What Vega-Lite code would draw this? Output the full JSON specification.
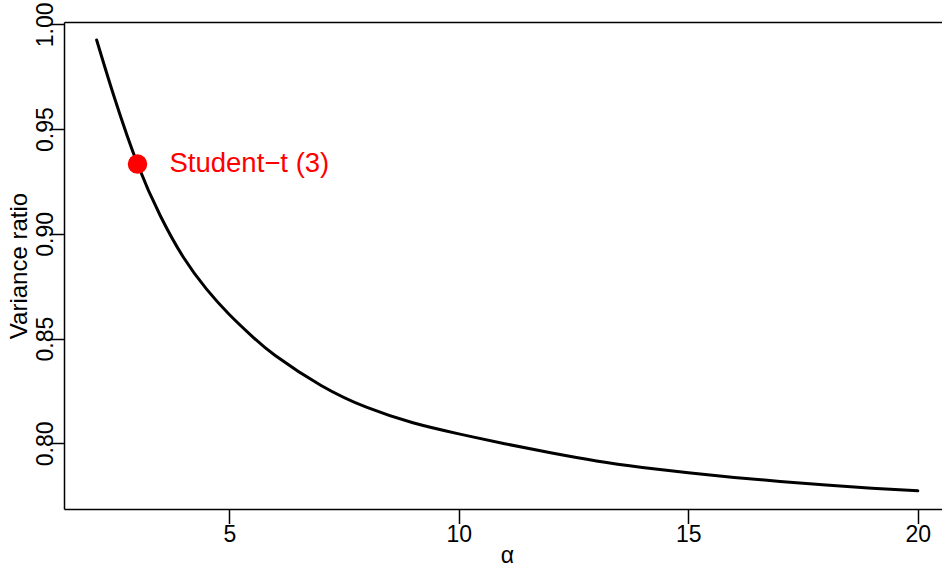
{
  "$schema": "https://vega.github.io/schema/vega-lite/v6.json",
  "width": 878,
  "height": 487,
  "autosize": "none",
  "padding": {"left": 64, "top": 22, "right": 0, "bottom": 58},
  "background": "white",
  "config": {
    "view": {"stroke": null},
    "font": "Liberation Sans",
    "axis": {"grid": false, "domainColor": "black", "domainWidth": 1.5, "tickColor": "black", "tickWidth": 1.5, "tickSize": 14.5, "labelColor": "black", "titleColor": "black", "labelFont": "Liberation Sans", "titleFont": "Liberation Sans", "labelFontSize": 23, "titleFontSize": 24, "titleFontWeight": "normal"}
  },
  "datasets": {
    "curve": [
      {"alpha": 2.11, "ratio": 0.9925},
      {"alpha": 2.5, "ratio": 0.9648},
      {"alpha": 3.0, "ratio": 0.9333},
      {"alpha": 3.5, "ratio": 0.9085},
      {"alpha": 4.0, "ratio": 0.8888},
      {"alpha": 4.5, "ratio": 0.8737},
      {"alpha": 5.0, "ratio": 0.8615},
      {"alpha": 5.5, "ratio": 0.8510},
      {"alpha": 6.0, "ratio": 0.8419},
      {"alpha": 7.0, "ratio": 0.8276},
      {"alpha": 8.0, "ratio": 0.8171},
      {"alpha": 9.0, "ratio": 0.8098},
      {"alpha": 10.0, "ratio": 0.8045},
      {"alpha": 11.0, "ratio": 0.7998},
      {"alpha": 12.0, "ratio": 0.7955},
      {"alpha": 13.0, "ratio": 0.7916},
      {"alpha": 14.0, "ratio": 0.7885},
      {"alpha": 15.0, "ratio": 0.7859},
      {"alpha": 16.0, "ratio": 0.7837},
      {"alpha": 17.0, "ratio": 0.7818},
      {"alpha": 18.0, "ratio": 0.7801},
      {"alpha": 19.0, "ratio": 0.7786},
      {"alpha": 20.0, "ratio": 0.7773}
    ],
    "pt": [
      {"alpha": 3, "ratio": 0.9333, "label": "Student\u2212t (3)"}
    ]
  },
  "resolve": {"axis": {"x": "independent"}},
  "layer": [
    {
      "data": {"name": "curve"},
      "mark": {"type": "line", "color": "black", "strokeWidth": 3, "strokeCap": "round", "strokeJoin": "round", "interpolate": "natural"},
      "encoding": {
        "x": {"field": "alpha", "type": "quantitative", "scale": {"domain": [1.399, 20.527], "nice": false, "zero": false},
              "axis": {"orient": "bottom", "values": [5, 10, 15, 20], "title": "\u03b1", "titleFontSize": 23, "labelBaseline": "alphabetic", "labelPadding": 18, "titleBaseline": "alphabetic", "titleY": 53.5, "titleX": 443}},
        "y": {"field": "ratio", "type": "quantitative", "scale": {"domain": [0.76864, 1.0011], "nice": false, "zero": false},
              "axis": {"values": [0.8, 0.85, 0.9, 0.95, 1.0], "format": ".2f", "labelAngle": -90, "labelAlign": "center", "labelBaseline": "alphabetic", "labelPadding": -2.5, "title": "Variance ratio", "titleBaseline": "alphabetic", "titleX": -37.3, "titleY": 243.5, "titleAngle": -90, "titleAlign": "center"}}
      }
    },
    {
      "data": {"name": "pt"},
      "mark": {"type": "point", "filled": true, "color": "#FF0000", "opacity": 1, "size": 380, "shape": "circle"},
      "encoding": {
        "x": {"field": "alpha", "type": "quantitative", "axis": {"orient": "top", "labels": false, "ticks": false, "domain": true, "title": null}},
        "y": {"field": "ratio", "type": "quantitative"}
      }
    },
    {
      "data": {"name": "pt"},
      "mark": {"type": "text", "color": "#FF0000", "fontSize": 27.5, "font": "Liberation Sans", "align": "left", "baseline": "middle", "dx": 32},
      "encoding": {
        "x": {"field": "alpha", "type": "quantitative", "axis": null},
        "y": {"field": "ratio", "type": "quantitative"},
        "text": {"field": "label"}
      }
    }
  ]
}
